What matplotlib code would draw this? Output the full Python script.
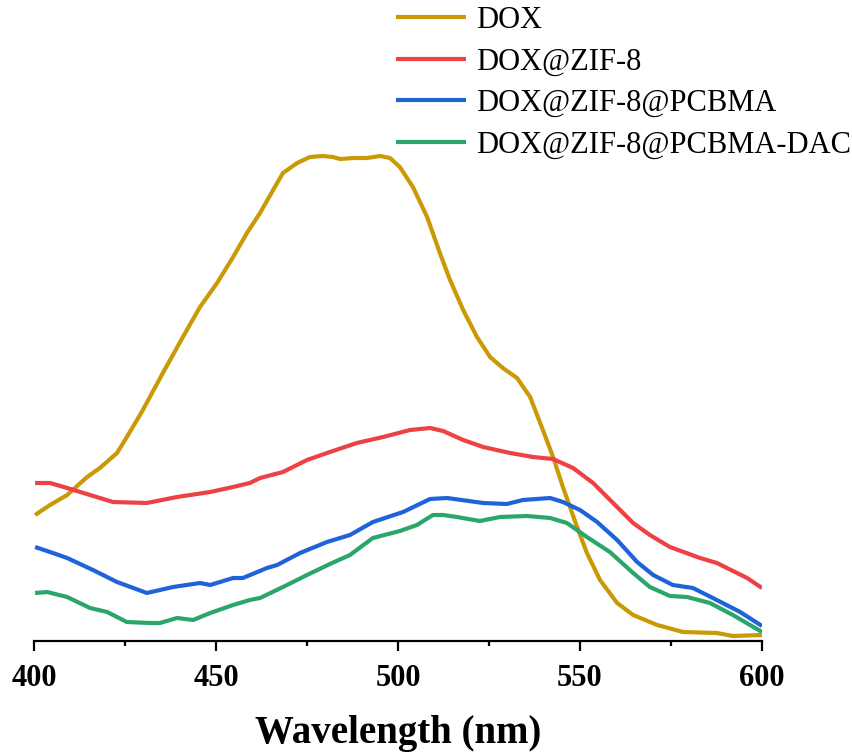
import matplotlib
matplotlib.use("Agg")
import matplotlib.pyplot as plt

plt.rcParams['font.family'] = ['Liberation Serif', 'DejaVu Serif']

# fluorescence spectra (arbitrary units)
dox_wl = [400.3, 404.4, 409.1, 414.6, 418.1, 422.8, 424.5, 428.3, 429.9, 435.4,
          440.9, 445.6, 450.3, 454.7, 458.5, 462.1, 465.7, 468.4, 472.3, 475.8,
          479.4, 482.1, 484.1, 487.6, 491.5, 495.1, 497.8, 500.5, 504.1, 508.0,
          511.5, 514.3, 517.9, 521.7, 525.3, 528.8, 532.7, 536.3, 539.8, 542.6,
          545.3, 549.2, 551.9, 555.5, 560.2, 564.6, 571.2, 578.3, 587.6, 592.0,
          600.0]
dox_int = [126, 136, 146, 164, 173, 188, 198, 221, 231, 268,
           304, 334, 358, 384, 408, 428, 451, 468, 478, 484,
           485, 484, 482, 483, 483, 485, 483, 474, 454, 424,
           388, 361, 331, 304, 284, 273, 263, 244, 211, 184,
           154, 114, 88, 61, 38, 26, 16, 9, 8, 5,
           6]

zif_wl = [400.3, 404.4, 409.1, 415.4, 421.7, 431.0, 439.3, 448.4, 454.7, 459.3,
          462.1, 468.4, 475.0, 481.3, 488.7, 495.9, 503.3, 508.8, 512.4, 517.9,
          523.4, 530.8, 537.1, 542.6, 548.1, 553.6, 559.1, 564.6, 569.2, 574.7,
          583.0, 587.6, 595.9, 600.0]
zif_int = [158, 158, 153, 146, 139, 138, 144, 149, 154, 158,
           163, 169, 181, 189, 198, 204, 211, 213, 210, 201,
           194, 188, 184, 182, 173, 158, 138, 118, 106, 94,
           83, 78, 63, 53]

pcbma_wl = [400.3, 404.4, 409.1, 416.2, 422.8, 431.0, 438.2, 445.6, 448.4, 454.7,
            457.4, 464.0, 466.8, 473.1, 480.5, 486.8, 493.1, 501.4, 508.8, 513.5,
            523.4, 529.9, 534.3, 541.8, 545.3, 550.0, 554.7, 560.2, 565.7, 570.1,
            575.5, 581.0, 586.5, 594.0, 600.0]
pcbma_int = [94, 89, 83, 71, 59, 48, 54, 58, 56, 63,
             63, 73, 76, 88, 99, 106, 119, 129, 142, 143,
             138, 137, 141, 143, 139, 131, 119, 101, 79, 66,
             56, 53, 43, 29, 15]

dac_wl = [400.3, 403.6, 409.1, 415.4, 420.1, 425.5, 431.9, 434.6, 439.3, 443.7,
          448.4, 454.7, 459.3, 462.1, 468.4, 475.0, 481.3, 486.8, 493.1, 500.5,
          505.2, 509.6, 512.4, 516.2, 522.5, 528.0, 535.4, 541.8, 546.4, 551.9,
          558.2, 564.6, 569.2, 574.7, 579.4, 585.7, 592.0, 600.0]
dac_int = [48, 49, 44, 33, 29, 19, 18, 18, 23, 21,
           28, 36, 41, 43, 54, 66, 77, 86, 103, 110,
           116, 126, 126, 124, 120, 124, 125, 123, 118, 104,
           89, 68, 54, 45, 44, 38, 26, 9]

labels = ['DOX', 'DOX@ZIF-8', 'DOX@ZIF-8@PCBMA', 'DOX@ZIF-8@PCBMA-DAC']
colors = ['#C99A06', '#EE4144', '#1F63D9', '#2BA66A']

fig = plt.figure(figsize=(8.53, 7.52), dpi=100)
ax = fig.add_axes([34 / 853, 111 / 752, 728 / 853, 631 / 752])

series = [(dox_wl, dox_int), (zif_wl, zif_int),
          (pcbma_wl, pcbma_int), (dac_wl, dac_int)]
for (wl, inten), lab, col in zip(series, labels, colors):
    ax.plot(wl, inten, color=col, lw=3, label=lab,
            solid_capstyle='butt', solid_joinstyle='round')

ax.set_xlim(400, 600)
ax.set_ylim(0, 631)
ax.set_xticks([400, 450, 500, 550, 600])
ax.set_xticks([425, 475, 525, 575], minor=True)
ax.set_yticks([])

for side in ['top', 'right', 'left']:
    ax.spines[side].set_visible(False)
ax.spines['bottom'].set_linewidth(1.6)
ax.tick_params(axis='x', which='major', length=7.5, width=1.6, pad=9,
               labelsize=22)
ax.tick_params(axis='x', which='minor', length=3.8, width=1.6)
for t in ax.get_xticklabels():
    t.set_fontweight('bold')

ax.set_xlabel('Wavelength (nm)', fontsize=28, fontweight='bold', labelpad=16)

ax.legend(loc='upper left', bbox_to_anchor=(396 / 853, 1 - 6 / 752),
          bbox_transform=fig.transFigure, frameon=False, fontsize=22,
          handlelength=2.3, handletextpad=0.33, labelspacing=0.41,
          borderpad=0, borderaxespad=0)

fig.savefig('out.png', dpi=100)
